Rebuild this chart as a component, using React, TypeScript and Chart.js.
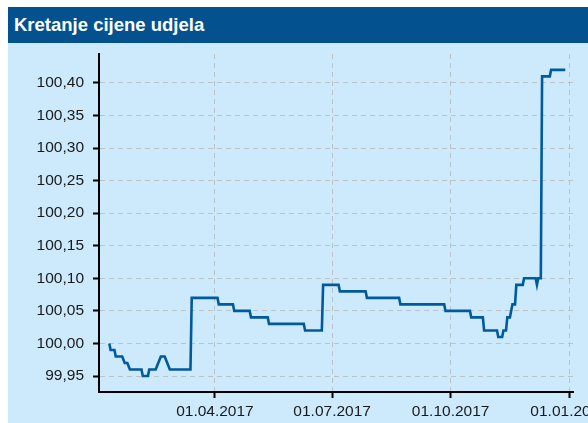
import React, { useEffect, useRef } from 'react';
import { Chart, registerables } from 'chart.js';

Chart.register(...registerables);

const titleText = 'Kretanje cijene udjela';

const dates = [
  '2017-01-09', '2017-01-10', '2017-01-13', '2017-01-14', '2017-01-19', '2017-01-21',
  '2017-01-23', '2017-01-25', '2017-02-03', '2017-02-04', '2017-02-08', '2017-02-09',
  '2017-02-14', '2017-02-16', '2017-02-18', '2017-02-21', '2017-02-23', '2017-02-25',
  '2017-03-13', '2017-03-14', '2017-04-03', '2017-04-04', '2017-04-15', '2017-04-16',
  '2017-04-28', '2017-04-29', '2017-05-12', '2017-05-13', '2017-06-09', '2017-06-10',
  '2017-06-23', '2017-06-24', '2017-07-06', '2017-07-07', '2017-07-27', '2017-07-28',
  '2017-08-22', '2017-08-23', '2017-09-26', '2017-09-27', '2017-10-16', '2017-10-17',
  '2017-10-26', '2017-10-27', '2017-11-06', '2017-11-07', '2017-11-10', '2017-11-11',
  '2017-11-13', '2017-11-14', '2017-11-16', '2017-11-18', '2017-11-20', '2017-11-21',
  '2017-11-26', '2017-11-27', '2017-12-06', '2017-12-07', '2017-12-08', '2017-12-10',
  '2017-12-11', '2017-12-17', '2017-12-18', '2017-12-29',
];

const prices = [
  100.0, 99.99, 99.99, 99.98, 99.98, 99.97,
  99.97, 99.96, 99.96, 99.95, 99.95, 99.96,
  99.96, 99.97, 99.98, 99.98, 99.97, 99.96,
  99.96, 100.07, 100.07, 100.06, 100.06, 100.05,
  100.05, 100.04, 100.04, 100.03, 100.03, 100.02,
  100.02, 100.09, 100.09, 100.08, 100.08, 100.07,
  100.07, 100.06, 100.06, 100.05, 100.05, 100.04,
  100.04, 100.02, 100.02, 100.01, 100.01, 100.02,
  100.02, 100.04, 100.04, 100.06, 100.06, 100.09,
  100.09, 100.1, 100.1, 100.09, 100.1, 100.1,
  100.41, 100.41, 100.42, 100.42,
];

const yTicks = [99.95, 100.0, 100.05, 100.1, 100.15, 100.2, 100.25, 100.3, 100.35, 100.4];
const xTickDates = ['2017-04-01', '2017-07-01', '2017-10-01', '2018-01-01'];
const xTickLabels = ['01.04.2017', '01.07.2017', '01.10.2017', '01.01.2018'];
const xStartDate = '2017-01-01';
const xEndDate = '2018-01-04';
const yMin = 99.9255;
const yMax = 100.4443;

const dayOf = (s: string) => {
  const [y, m, d] = s.split('-').map(Number);
  const [y0, m0, d0] = xStartDate.split('-').map(Number);
  return (Date.UTC(y, m - 1, d) - Date.UTC(y0, m0 - 1, d0)) / 86400000;
};

const CANVAS_W = 612;
const CANVAS_H = 380;
const FONT = "'Liberation Sans', Arial, sans-serif";

export default function App() {
  const ref = useRef<HTMLCanvasElement | null>(null);

  useEffect(() => {
    if (!ref.current) return;
    const points = dates.map((d, i) => ({ x: dayOf(d), y: prices[i] }));
    const chart = new Chart(ref.current, {
      type: 'line',
      data: {
        datasets: [
          {
            data: points,
            borderColor: '#005a9c',
            borderWidth: 2.6,
            pointRadius: 0,
            tension: 0,
            fill: false,
          },
        ],
      },
      options: {
        animation: false,
        responsive: false,
        layout: { padding: { top: 11, right: CANVAS_W - 565, left: 0, bottom: 0 } },
        plugins: { legend: { display: false }, tooltip: { enabled: false } },
        scales: {
          x: {
            type: 'linear',
            min: dayOf(xStartDate),
            max: dayOf(xEndDate),
            afterBuildTicks: (s: any) => {
              s.ticks = xTickDates.map((d) => ({ value: dayOf(d) }));
            },
            afterFit: (s: any) => {
              s.height = 31;
              s.paddingLeft = 0;
              s.paddingRight = 0;
            },
            ticks: {
              autoSkip: false,
              maxRotation: 0,
              padding: 4,
              color: '#1a1a1a',
              font: { family: FONT, size: 15.5 },
              callback: (_v: any, i: number) => xTickLabels[i],
            },
            grid: { color: '#bdc2c6', lineWidth: 1, tickColor: '#000', tickWidth: 2, tickLength: 6 },
            border: { color: '#000', width: 2, dash: [5, 4] },
          },
          y: {
            type: 'linear',
            min: yMin,
            max: yMax,
            afterBuildTicks: (s: any) => {
              s.ticks = yTicks.map((v) => ({ value: v }));
            },
            afterFit: (s: any) => {
              s.width = 91;
              s.paddingTop = 0;
              s.paddingBottom = 0;
            },
            ticks: {
              padding: 9,
              color: '#1a1a1a',
              font: { family: FONT, size: 15.5 },
              callback: (v: any) => Number(v).toFixed(2).replace('.', ','),
            },
            grid: { color: '#bdc2c6', lineWidth: 1, tickColor: '#000', tickWidth: 2, tickLength: 6 },
            border: { color: '#000', width: 2, dash: [5, 4] },
          },
        },
      },
    } as any);
    return () => chart.destroy();
  }, []);

  return (
    <div
      style={{
        position: 'absolute',
        left: 8,
        top: 7,
        width: 580,
        height: 416,
        overflow: 'hidden',
        background: '#cceafc',
      }}
    >
      <div
        style={{
          height: 36,
          lineHeight: '36px',
          background: '#03528f',
          color: '#fff',
          fontFamily: FONT,
          fontWeight: 'bold',
          fontSize: 18.5,
          paddingLeft: 6,
          whiteSpace: 'nowrap',
        }}
      >
        {titleText}
      </div>
      <canvas
        ref={ref}
        width={CANVAS_W}
        height={CANVAS_H}
        style={{ display: 'block', width: CANVAS_W, height: CANVAS_H }}
      />
    </div>
  );
}
